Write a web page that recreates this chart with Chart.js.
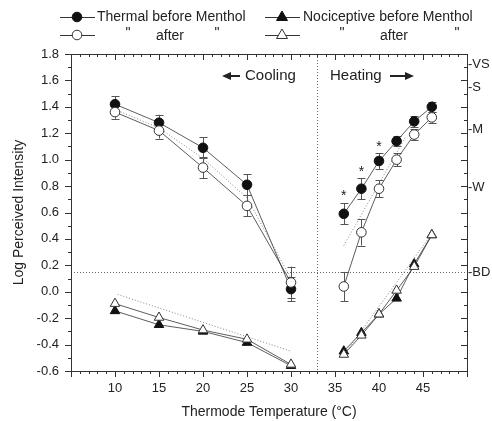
<!DOCTYPE html>
<html>
<head>
<meta charset="utf-8">
<script src="https://cdn.jsdelivr.net/npm/chart.js@4.4.1/dist/chart.umd.min.js"></script>
<style>
  html, body { margin: 0; padding: 0; background: #fff; }
</style>
</head>
<body>
<canvas id="menthol_chart" width="492" height="421"></canvas>
<script>
// temperatures (x)
const coolTemps = [10, 15, 20, 25, 30];
const heatTemps = [36, 38, 40, 42, 44, 46];

// thermal ratings, log perceived intensity
const thermalBeforeCool = [1.42, 1.28, 1.09, 0.81, 0.02];
const thermalBeforeHeat = [0.59, 0.78, 0.99, 1.14, 1.29, 1.40];
const thermalAfterCool = [1.36, 1.22, 0.94, 0.65, 0.07];
const thermalAfterHeat = [0.04, 0.45, 0.78, 1.00, 1.19, 1.32];

// standard errors
const thermalBeforeCoolErr = [0.06, 0.06, 0.08, 0.08, 0.09];
const thermalBeforeHeatErr = [0.08, 0.08, 0.06, 0.04, 0.04, 0.04];
const thermalAfterCoolErr = [0.05, 0.06, 0.08, 0.08, 0.12];
const thermalAfterHeatErr = [0.11, 0.10, 0.065, 0.05, 0.04, 0.04];

// nociceptive ratings
const nociBeforeCool = [-0.145, -0.25, -0.30, -0.385, -0.56];
const nociBeforeHeat = [-0.45, -0.31, -0.17, -0.05, 0.21, 0.43];
const nociAfterCool = [-0.09, -0.195, -0.29, -0.36, -0.55];
const nociAfterHeat = [-0.475, -0.33, -0.17, 0.01, 0.19, 0.43];

// dotted reference curves
const fitThermalCoolX = [10, 15, 20, 25, 30];
const fitThermalCoolY = [1.38, 1.24, 1.01, 0.71, 0.10];
const fitThermalHeatX = [36, 43];
const fitThermalHeatY = [0.35, 1.17];
const fitNociCoolX = [10.3, 30];
const fitNociCoolY = [-0.02, -0.45];
const fitNociHeatX = [36.2, 45.8];
const fitNociHeatY = [-0.46, 0.42];

// significance marks
const starX = [36, 38, 40];
const starY = [0.75, 0.93, 1.12];

// threshold lines
const splitTemp = 33;
const bdLevel = 0.15;

// right hand verbal labels
const verbalLabels = ['-VS', '-S', '-M', '-W', '-BD'];
const verbalLevels = [1.72, 1.55, 1.23, 0.79, 0.15];

const fontFam = '"Liberation Sans", Arial, sans-serif';
const lineCol = '#333';

function toPoints(xs, ys) {
    return xs.map((x, i) => ({x: x, y: ys[i]}));
}

function withGap(cool, heat) {
    return toPoints(coolTemps, cool).concat([{x: splitTemp, y: null}], toPoints(heatTemps, heat));
}

// order: lower number is drawn on top
function series(data, style, filled, order) {
    return {
        data: data,
        order: order,
        showLine: true,
        spanGaps: false,
        borderColor: lineCol,
        borderWidth: 0.8,
        pointStyle: style,
        pointRadius: style == 'triangle' ? 5.5 : 4.8,
        pointBackgroundColor: filled ? '#111' : '#fff',
        pointBorderColor: filled ? '#111' : '#333',
        pointBorderWidth: 1
    };
}

function dotted(xs, ys) {
    return {
        data: toPoints(xs, ys),
        order: 10,
        showLine: true,
        borderColor: '#777',
        borderWidth: 0.9,
        borderDash: [1, 2],
        pointRadius: 0
    };
}

const errorSets = [
    {xs: coolTemps, ys: thermalBeforeCool, err: thermalBeforeCoolErr},
    {xs: heatTemps, ys: thermalBeforeHeat, err: thermalBeforeHeatErr},
    {xs: coolTemps, ys: thermalAfterCool, err: thermalAfterCoolErr},
    {xs: heatTemps, ys: thermalAfterHeat, err: thermalAfterHeatErr}
];

// error bars + dotted reference lines, under the markers
const underPlugin = {
    id: 'under',
    beforeDatasetsDraw(chart) {
        const ctx = chart.ctx, xs = chart.scales.x, ys = chart.scales.y, a = chart.chartArea;
        ctx.save();
        ctx.strokeStyle = '#666';
        ctx.lineWidth = 1;
        ctx.setLineDash([1, 2]);
        ctx.beginPath();
        let px = Math.round(xs.getPixelForValue(splitTemp)) + 0.5;
        ctx.moveTo(px, a.top);
        ctx.lineTo(px, a.bottom);
        let py = Math.round(ys.getPixelForValue(bdLevel)) + 0.5;
        ctx.moveTo(a.left, py);
        ctx.lineTo(a.right, py);
        ctx.stroke();
        ctx.setLineDash([]);

        ctx.strokeStyle = '#555';
        ctx.lineWidth = 1;
        errorSets.forEach(s => {
            s.xs.forEach((x, i) => {
                let cx = Math.round(xs.getPixelForValue(x)) + 0.5;
                let top = ys.getPixelForValue(s.ys[i] + s.err[i]);
                let bot = ys.getPixelForValue(s.ys[i] - s.err[i]);
                ctx.beginPath();
                ctx.moveTo(cx, top);
                ctx.lineTo(cx, bot);
                ctx.moveTo(cx - 4, Math.round(top) + 0.5);
                ctx.lineTo(cx + 4, Math.round(top) + 0.5);
                ctx.moveTo(cx - 4, Math.round(bot) + 0.5);
                ctx.lineTo(cx + 4, Math.round(bot) + 0.5);
                ctx.stroke();
            });
        });
        ctx.restore();
    }
};

function drawMarker(ctx, style, filled, x, y) {
    ctx.beginPath();
    if (style == 'circle') {
        ctx.arc(x, y, 4.8, 0, Math.PI * 2);
    } else {
        ctx.moveTo(x, y - 6);
        ctx.lineTo(x + 5.5, y + 3.5);
        ctx.lineTo(x - 5.5, y + 3.5);
        ctx.closePath();
    }
    ctx.fillStyle = filled ? '#111' : '#fff';
    ctx.fill();
    ctx.strokeStyle = filled ? '#111' : '#333';
    ctx.lineWidth = 1;
    ctx.stroke();
}

// frame, ticks, texts and legend
const overPlugin = {
    id: 'over',
    afterDraw(chart) {
        const ctx = chart.ctx, xs = chart.scales.x, ys = chart.scales.y, a = chart.chartArea;
        ctx.save();
        ctx.strokeStyle = '#333';
        ctx.lineWidth = 1;
        ctx.strokeRect(a.left + 0.5, a.top + 0.5, a.right - a.left, a.bottom - a.top);

        ctx.beginPath();
        for (let t = 5; t <= 50; t++) {
            let px = Math.round(xs.getPixelForValue(t)) + 0.5;
            let len = t % 5 == 0 ? 6 : 3;
            ctx.moveTo(px, a.bottom);
            ctx.lineTo(px, a.bottom + len);
            ctx.moveTo(px, a.top);
            ctx.lineTo(px, a.top + len);
        }
        for (let k = -6; k <= 18; k++) {
            let py = Math.round(ys.getPixelForValue(k / 10)) + 0.5;
            let len = k % 2 == 0 ? 6 : 3;
            ctx.moveTo(a.left, py);
            ctx.lineTo(a.left - len, py);
            ctx.moveTo(a.right, py);
            ctx.lineTo(a.right - len, py);
        }
        ctx.stroke();

        ctx.fillStyle = '#222';
        ctx.font = '13px ' + fontFam;
        ctx.textAlign = 'left';
        ctx.textBaseline = 'middle';
        verbalLabels.forEach((lab, i) => {
            ctx.fillText(lab, a.right + 1, ys.getPixelForValue(verbalLevels[i]));
        });

        // asterisks
        ctx.textAlign = 'center';
        ctx.font = '14px ' + fontFam;
        starX.forEach((x, i) => {
            ctx.fillText('*', xs.getPixelForValue(x), ys.getPixelForValue(starY[i]) + 3);
        });

        // cooling / heating notes
        ctx.font = '15px ' + fontFam;
        ctx.textAlign = 'left';
        ctx.fillText('Cooling', 245, 76);
        ctx.fillText('Heating', 330, 76);
        ctx.strokeStyle = '#222';
        ctx.lineWidth = 2;
        ctx.beginPath();
        ctx.moveTo(240, 76); ctx.lineTo(228, 76);
        ctx.moveTo(390, 76); ctx.lineTo(406, 76);
        ctx.stroke();
        ctx.beginPath();
        ctx.moveTo(222, 76); ctx.lineTo(231, 72); ctx.lineTo(231, 80); ctx.closePath();
        ctx.moveTo(414, 76); ctx.lineTo(405, 72); ctx.lineTo(405, 80); ctx.closePath();
        ctx.fill();

        // axis titles
        ctx.font = '14px ' + fontFam;
        ctx.textAlign = 'center';
        ctx.fillText('Thermode Temperature (\u00B0C)', (a.left + a.right) / 2, 412);
        ctx.save();
        ctx.translate(19, (a.top + a.bottom) / 2);
        ctx.rotate(-Math.PI / 2);
        ctx.fillText('Log Perceived Intensity', 0, 0);
        ctx.restore();

        // legend
        const rows = [
            {x: 60, y: 17, style: 'circle', filled: true},
            {x: 265, y: 17, style: 'triangle', filled: true},
            {x: 60, y: 35, style: 'circle', filled: false},
            {x: 265, y: 35, style: 'triangle', filled: false}
        ];
        rows.forEach(r => {
            ctx.strokeStyle = '#333';
            ctx.lineWidth = 1;
            ctx.beginPath();
            ctx.moveTo(r.x, r.y + 0.5);
            ctx.lineTo(r.x + 35, r.y + 0.5);
            ctx.stroke();
            drawMarker(ctx, r.style, r.filled, r.x + 17, r.y);
        });
        ctx.fillStyle = '#222';
        ctx.font = '14px ' + fontFam;
        ctx.textAlign = 'left';
        ctx.fillText('Thermal before Menthol', 97, 17);
        ctx.fillText('Nociceptive before Menthol', 303, 17);
        ctx.textAlign = 'center';
        ctx.fillText('"', 128, 33);
        ctx.fillText('after', 170, 36);
        ctx.fillText('"', 217, 33);
        ctx.fillText('"', 342, 33);
        ctx.fillText('after', 394, 36);
        ctx.fillText('"', 457, 33);
        ctx.restore();
    }
};

let ctx = document.getElementById('menthol_chart').getContext('2d');
let chart = new Chart(ctx, {
    type: 'scatter',
    data: {
        datasets: [
            dotted(fitThermalCoolX, fitThermalCoolY),
            dotted(fitThermalHeatX, fitThermalHeatY),
            dotted(fitNociCoolX, fitNociCoolY),
            dotted(fitNociHeatX, fitNociHeatY),
            series(withGap(nociBeforeCool, nociBeforeHeat), 'triangle', true, 4),
            series(withGap(nociAfterCool, nociAfterHeat), 'triangle', false, 3),
            series(withGap(thermalBeforeCool, thermalBeforeHeat), 'circle', true, 2),
            series(withGap(thermalAfterCool, thermalAfterHeat), 'circle', false, 1)
        ]
    },
    options: {
        responsive: false,
        animation: false,
        layout: {padding: {top: 54, right: 25, left: 0, bottom: 0}},
        plugins: {legend: {display: false}, tooltip: {enabled: false}},
        scales: {
            x: {
                type: 'linear',
                min: 5,
                max: 50,
                grid: {display: false, drawTicks: false},
                border: {display: false},
                ticks: {
                    stepSize: 5,
                    padding: 10,
                    color: '#222',
                    font: {family: fontFam, size: 13},
                    callback: v => (v >= 10 && v <= 45) ? v : ''
                },
                afterFit: s => { s.height = 50; }
            },
            y: {
                min: -0.6,
                max: 1.8,
                grid: {display: false, drawTicks: false},
                border: {display: false},
                ticks: {
                    stepSize: 0.2,
                    padding: 12,
                    color: '#222',
                    font: {family: fontFam, size: 13},
                    callback: v => Math.abs(v) < 1e-9 ? '0.0' : v.toFixed(1)
                },
                afterFit: s => { s.width = 71; }
            }
        }
    },
    plugins: [underPlugin, overPlugin]
});
</script>
</body>
</html>
